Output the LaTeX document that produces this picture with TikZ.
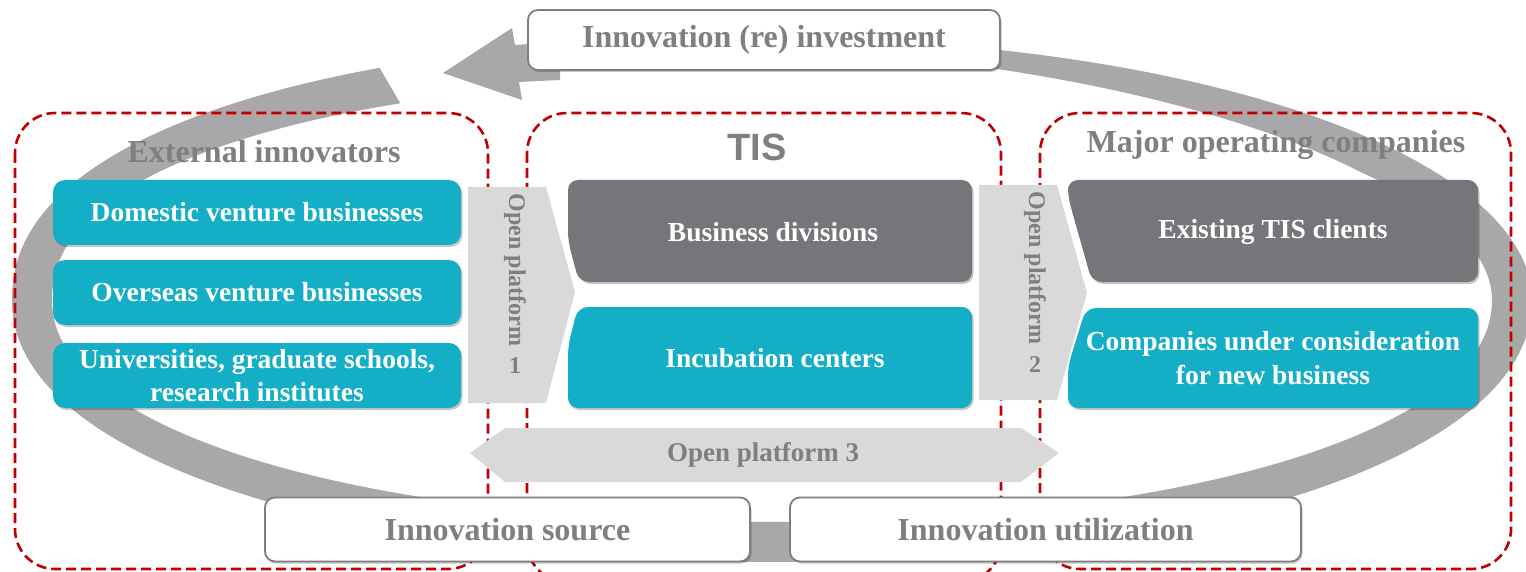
\documentclass[tikz,border=0pt]{standalone}
\usepackage{fontspec}
\setmainfont{Liberation Serif}
\setsansfont{Liberation Sans}
\usetikzlibrary{shadows}
\definecolor{tealbox}{RGB}{20,175,198}
\definecolor{darkbox}{RGB}{118,118,122}
\definecolor{platgray}{RGB}{217,217,217}
\definecolor{txtgray}{RGB}{127,127,127}
\definecolor{ringgray}{RGB}{168,168,168}
\definecolor{dashred}{RGB}{192,0,0}
\begin{document}
\begin{tikzpicture}[x=1pt,y=-1pt,
  declare function={
    ex(\t)=(sin(\t)>0)?((cos(\t)<0)?0.909:1.0):0.952;
    wd(\t)=40-22*min(max((\t-395)/40,0),1);
    sxo(\t)=772+760*cos(\t)*pow(abs(cos(\t))+0.0001,ex(\t)-1);
    syo(\t)=300-262*sin(\t)*pow(abs(sin(\t))+0.0001,ex(\t)-1);
    sxi(\t)=772+(760-wd(\t))*cos(\t)*pow(abs(cos(\t))+0.0001,ex(\t)-1);
    syi(\t)=300-(262-wd(\t))*sin(\t)*pow(abs(sin(\t))+0.0001,ex(\t)-1);
  },
  redbox/.style={draw=dashred, line width=2.6pt, dash pattern=on 10pt off 5pt, rounded corners=40pt},
  softshadow/.style={drop shadow={shadow xshift=1.5pt, shadow yshift=-2pt, opacity=0.22, fill=black}},
  tealnode/.style={fill=tealbox, rounded corners=12pt, inner sep=0pt, softshadow,
    font=\fontsize{27.5}{33}\selectfont\bfseries, text=white, align=center},
  boxtext/.style={inner sep=0pt, font=\fontsize{27.5}{34}\selectfont\bfseries, text=white, align=center},
  title/.style={inner sep=0pt, font=\fontsize{32}{36}\selectfont\bfseries, text=txtgray},
  tistitle/.style={inner sep=0pt, font=\fontsize{38}{40}\selectfont\sffamily\bfseries, text=txtgray},
  plattext/.style={inner sep=0pt, font=\fontsize{24}{26}\selectfont\bfseries, text=txtgray},
  plat3text/.style={inner sep=0pt, font=\fontsize{27}{30}\selectfont\bfseries, text=txtgray},
  labelbox/.style={draw=txtgray, line width=1.8pt, fill=white, rounded corners=10pt, inner sep=0pt,
    softshadow, font=\fontsize{32}{36}\selectfont\bfseries, text=txtgray},
  platfill/.style={fill=platgray},
]
\fill[white] (0,0) rectangle (1526,572);
\path[use as bounding box] (0,0) rectangle (1526,572);

% big circular arrow
\fill[ringgray] plot[domain=118.9:464, samples=260, variable=\x] ({sxo(\x)},{syo(\x)})
  -- plot[domain=464:118.9, samples=260, variable=\x] ({sxi(\x)},{syi(\x)}) -- cycle;
\fill[ringgray] (443,73) -- (512,28) -- (515,45) -- (560,42) -- (560,80) -- (519,82) -- (522,100) -- cycle;

% dashed group frames
\draw[redbox] (15,113) rectangle (488,569);
\draw[redbox] (527,113) rectangle (1001,582);
\draw[redbox] (1040,113) rectangle (1511,569);

% titles
\node[title] (ext) at (264,152) {External innovators};
\node[tistitle] (tis) at (757,147) {TIS};
\node[title] (maj) at (1276,145) {Major operating companies};

% left boxes
\node[tealnode, minimum width=408pt, minimum height=65pt] (dom) at (257,212.5) {Domestic venture businesses};
\node[tealnode, minimum width=408pt, minimum height=65pt] (ovs) at (257,292.5) {Overseas venture businesses};
\node[tealnode, minimum width=408pt, minimum height=65pt] (uni) at (257,375.5) {Universities, graduate schools,\\research institutes};

% TIS boxes
\fill[darkbox, rounded corners=10pt, softshadow] (770,180) -- (972,180) -- (972,282) -- (579,282) -- (568,241) -- (568,180) -- cycle;
\node[boxtext] (bdiv) at (773,232) {Business divisions};
\fill[tealbox, rounded corners=10pt, softshadow] (770,307) -- (972,307) -- (972,408) -- (568,408) -- (568,346) -- (578,307) -- cycle;
\node[boxtext] (inc) at (775,358) {Incubation centers};

% Major operating companies boxes
\fill[darkbox, rounded corners=10pt, softshadow] (1270,180) -- (1478,180) -- (1478,282) -- (1092,282) -- (1068,197) -- (1068,180) -- cycle;
\node[boxtext] (cli) at (1273,232) {Existing TIS clients};
\fill[tealbox, rounded corners=10pt, softshadow] (1270,308) -- (1478,308) -- (1478,408) -- (1068,408) -- (1068,366) -- (1086,308) -- cycle;
\node[boxtext] (newb) at (1273,358) {Companies under consideration\\for new business};

% open platforms
\fill[platfill] (468,187) -- (546,187) -- (575,292) -- (546,403) -- (468,403) -- cycle;
\node[plattext, rotate=-90] (op1) at (515,270) {Open platform};
\node[plattext] (op1n) at (515,366) {1};
\fill[platfill] (979,185) -- (1057,185) -- (1087,293) -- (1057,400) -- (979,400) -- cycle;
\node[plattext, rotate=-90] (op2) at (1035,268) {Open platform};
\node[plattext] (op2n) at (1035,365) {2};
\fill[platfill] (470,453) -- (505,428) -- (1021,428) -- (1059,453) -- (1021,482) -- (505,482) -- cycle;
\node[plat3text] (op3) at (763,455) {Open platform 3};

% label boxes
\node[labelbox, minimum width=472pt, minimum height=60pt] (inv) at (764,40) {Innovation (re) investment};
\node[labelbox, minimum width=485pt, minimum height=64pt] (src) at (507.5,529.5) {Innovation source};
\node[labelbox, minimum width=511pt, minimum height=64pt] (uti) at (1045.5,529.5) {Innovation utilization};
\end{tikzpicture}
\end{document}
